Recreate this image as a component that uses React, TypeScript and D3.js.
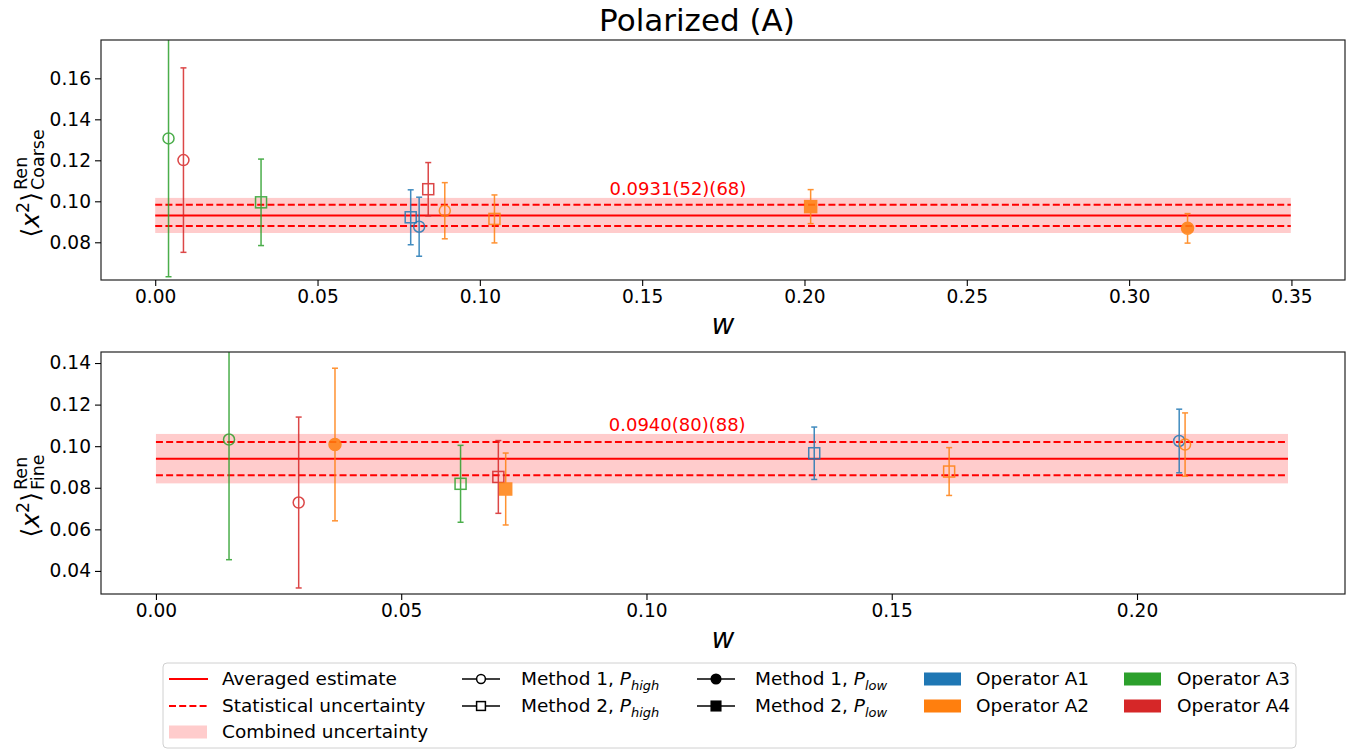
import React, { useEffect, useRef } from "react";
import * as d3 from "d3";

const FONT = "'DejaVu Sans', sans-serif";
const OPERATORS = ["A1", "A2", "A3", "A4"];
const OP_COLORS = ["#1f77b4", "#ff7f0e", "#2ca02c", "#d62728"];
// method codes: M1H = Method 1 P_high, M2H = Method 2 P_high, M1L = Method 1 P_low, M2L = Method 2 P_low

// ---- Coarse ensemble ----
const coarseOp = ["A3", "A4", "A3", "A1", "A1", "A4", "A2", "A2", "A2", "A2"];
const coarseMethod = ["M1H", "M1H", "M2H", "M2H", "M1H", "M2H", "M1H", "M2H", "M2L", "M1L"];
const coarseW = [0.0041, 0.0087, 0.0326, 0.0787, 0.0813, 0.0841, 0.0892, 0.1045, 0.2019, 0.318];
const coarseVal = [0.1307, 0.1201, 0.0995, 0.0922, 0.0876, 0.1059, 0.0954, 0.0914, 0.0974, 0.0868];
const coarseErr = [0.0675, 0.045, 0.0211, 0.0134, 0.0144, 0.013, 0.0137, 0.0117, 0.0083, 0.0072];
const coarseAvg = 0.0931;
const coarseStat = 0.0052;
const coarseSys = 0.0068;
const coarseText = "0.0931(52)(68)";
const coarseXTicks = [0, 0.05, 0.1, 0.15, 0.2, 0.25, 0.3, 0.35];
const coarseYTicks = [0.08, 0.1, 0.12, 0.14, 0.16];

// ---- Fine ensemble ----
const fineOp = ["A3", "A4", "A2", "A3", "A4", "A2", "A1", "A2", "A1", "A2"];
const fineMethod = ["M1H", "M1H", "M1L", "M2H", "M2H", "M2L", "M2H", "M2H", "M1H", "M1H"];
const fineW = [0.0149, 0.0291, 0.0365, 0.0621, 0.0698, 0.0713, 0.1342, 0.1617, 0.2086, 0.2098];
const fineVal = [0.1032, 0.0729, 0.1008, 0.0819, 0.0852, 0.0794, 0.0966, 0.0878, 0.1025, 0.1008];
const fineErr = [0.0578, 0.0411, 0.0367, 0.0185, 0.0175, 0.0173, 0.0126, 0.0115, 0.0153, 0.0152];
const fineAvg = 0.094;
const fineStat = 0.008;
const fineSys = 0.0088;
const fineText = "0.0940(80)(88)";
const fineXTicks = [0, 0.05, 0.1, 0.15, 0.2];
const fineYTicks = [0.04, 0.06, 0.08, 0.1, 0.12, 0.14];

const fmt = d3.format(".2f");

function Marker({ method, color, cx, cy, legend }: any) {
  const filled = method === "M1L" || method === "M2L";
  const isCircle = method === "M1H" || method === "M1L";
  const s = legend ? 0.8 : 1;
  if (isCircle) {
    const r = (filled ? 6 : 5.5) * s;
    return (
      <circle cx={cx} cy={cy} r={r} fill={filled ? color : legend ? "#fff" : "none"} stroke={color} strokeWidth={1.5} />
    );
  }
  const h = (filled ? 6 : 5.5) * s;
  return (
    <rect x={cx - h} y={cy - h} width={2 * h} height={2 * h} fill={filled ? color : legend ? "#fff" : "none"} stroke={color} strokeWidth={1.5} />
  );
}

function Panel({ id, top, bottom, xDomain, yDomain, ws, vals, errs, ops, methods, avg, stat, sys, text, xTicks, yTicks, sub, labelSplit }: any) {
  const left = 101;
  const right = 1345;
  const x = d3.scaleLinear().domain(xDomain).range([left, right]);
  const y = d3.scaleLinear().domain(yDomain).range([bottom, top]);
  const xRef = useRef<SVGGElement>(null);
  const yRef = useRef<SVGGElement>(null);
  const comb = Math.sqrt(stat * stat + sys * sys);
  const bandEnd = d3.max(ws as number[])! * 1.1;

  useEffect(() => {
    const style = (g: any) => {
      g.attr("font-size", null).attr("font-family", null);
      g.select(".domain").remove();
      g.selectAll("text").attr("font-size", 18.6).attr("font-family", FONT).attr("fill", "#000");
      g.selectAll("line").attr("stroke", "#000").attr("stroke-width", 1.1);
    };
    const gx = d3.select(xRef.current!);
    gx.call(d3.axisBottom(x).tickValues(xTicks).tickFormat((d: any) => fmt(d)).tickSize(6).tickPadding(4) as any);
    style(gx);
    const gy = d3.select(yRef.current!);
    gy.call(d3.axisLeft(y).tickValues(yTicks).tickFormat((d: any) => fmt(d)).tickSize(6).tickPadding(4) as any);
    style(gy);
  }, []);

  return (
    <g>
      <defs>
        <clipPath id={`clip-${id}`}>
          <rect x={left} y={top} width={right - left} height={bottom - top} />
        </clipPath>
      </defs>
      <g clipPath={`url(#clip-${id})`}>
        <rect x={x(0)} width={x(bandEnd) - x(0)} y={y(avg + comb)} height={y(avg - comb) - y(avg + comb)} fill="#ffcccc" />
        <line x1={x(0)} x2={x(bandEnd)} y1={y(avg)} y2={y(avg)} stroke="#ff0000" strokeWidth={2} />
        <line x1={x(0)} x2={x(bandEnd)} y1={y(avg + stat)} y2={y(avg + stat)} stroke="#ff0000" strokeWidth={2} strokeDasharray="7,3.2" />
        <line x1={x(0)} x2={x(bandEnd)} y1={y(avg - stat)} y2={y(avg - stat)} stroke="#ff0000" strokeWidth={2} strokeDasharray="7,3.2" />
        {ws.map((w: number, i: number) => {
          const color = OP_COLORS[OPERATORS.indexOf(ops[i])];
          const cx = x(w);
          const y0 = y(vals[i] - errs[i]);
          const y1 = y(vals[i] + errs[i]);
          return (
            <g key={i} opacity={0.85}>
              <line x1={cx} x2={cx} y1={y0} y2={y1} stroke={color} strokeWidth={1.5} />
              <line x1={cx - 3} x2={cx + 3} y1={y0} y2={y0} stroke={color} strokeWidth={1.5} />
              <line x1={cx - 3} x2={cx + 3} y1={y1} y2={y1} stroke={color} strokeWidth={1.5} />
              <Marker method={methods[i]} color={color} cx={cx} cy={y(vals[i])} />
            </g>
          );
        })}
      </g>
      <text x={x(0.4 * bandEnd)} y={y(avg + comb) - 3} fontSize={18} fill="#ff0000" fontFamily={FONT}>
        {text}
      </text>
      <rect x={left} y={top} width={right - left} height={bottom - top} fill="none" stroke="#222" strokeWidth={1.2} />
      <g ref={xRef} transform={`translate(0,${bottom})`} />
      <g ref={yRef} transform={`translate(${left},0)`} />
      <text x={(left + right) / 2} y={bottom + 54} textAnchor="middle" fontSize={28} fontStyle="italic" fontFamily={FONT}>
        w
      </text>
      <g transform={`translate(39,${labelSplit}) rotate(-90)`} fontFamily={FONT}>
        <text x={0} y={0} textAnchor="end" fontSize={25}>
          ⟨<tspan fontStyle="italic">x</tspan>
          <tspan fontSize={17.5} dy={-10}>2</tspan>
          <tspan dy={10}>⟩</tspan>
        </text>
        <text x={2} y={-12} fontSize={17.5}>
          Ren
        </text>
        <text x={2} y={5} fontSize={17.5}>
          {sub}
        </text>
      </g>
    </g>
  );
}

function Legend() {
  const rows = [679, 706, 732];
  const fs = 18.5;
  const methodEntry = (code: string, num: string, sub: string, lx: number, tx: number, ry: number) => (
    <g key={code}>
      <line x1={lx} x2={lx + 38} y1={ry} y2={ry} stroke="#000" strokeWidth={1.5} />
      <Marker method={code} color="#000" cx={lx + 19} cy={ry} legend />
      <text x={tx} y={ry + 6} fontSize={fs}>
        Method {num}, <tspan fontStyle="italic">P</tspan>
        <tspan fontStyle="italic" fontSize={13} dy={5}>
          {sub}
        </tspan>
      </text>
    </g>
  );
  return (
    <g fontFamily={FONT}>
      <rect x={163} y={663} width={1133} height={85} rx={4} fill="#fff" stroke="#d0d0d0" strokeWidth={1} />
      <line x1={169} x2={208} y1={rows[0]} y2={rows[0]} stroke="#ff0000" strokeWidth={2} />
      <text x={222} y={rows[0] + 6} fontSize={fs}>Averaged estimate</text>
      <line x1={169} x2={208} y1={rows[1]} y2={rows[1]} stroke="#ff0000" strokeWidth={2} strokeDasharray="7,3.2" />
      <text x={222} y={rows[1] + 6} fontSize={fs}>Statistical uncertainty</text>
      <rect x={169} y={rows[2] - 6.5} width={38} height={13} fill="#ffcccc" />
      <text x={222} y={rows[2] + 6} fontSize={fs}>Combined uncertainty</text>
      {methodEntry("M1H", "1", "high", 462, 521, rows[0])}
      {methodEntry("M2H", "2", "high", 462, 521, rows[1])}
      {methodEntry("M1L", "1", "low", 697, 755, rows[0])}
      {methodEntry("M2L", "2", "low", 697, 755, rows[1])}
      {OPERATORS.map((op, i) => {
        const cx = i < 2 ? 924 : 1124;
        const tx = i < 2 ? 976 : 1177;
        const ry = rows[i % 2];
        return (
          <g key={op}>
            <rect x={cx} y={ry - 6.5} width={37} height={13} fill={OP_COLORS[i]} />
            <text x={tx} y={ry + 6} fontSize={fs}>Operator {op}</text>
          </g>
        );
      })}
    </g>
  );
}

export default function App() {
  useEffect(() => {
    document.body.style.margin = "0";
  }, []);
  return (
    <svg width={1364} height={752} style={{ display: "block", background: "#fff" }}>
      <text x={697} y={31} textAnchor="middle" fontSize={31} fontFamily={FONT}>
        Polarized (A)
      </text>
      <Panel
        id="coarse"
        top={40}
        bottom={280}
        xDomain={[-0.0167, 0.3665]}
        yDomain={[0.0616, 0.1787]}
        ws={coarseW}
        vals={coarseVal}
        errs={coarseErr}
        ops={coarseOp}
        methods={coarseMethod}
        avg={coarseAvg}
        stat={coarseStat}
        sys={coarseSys}
        text={coarseText}
        xTicks={coarseXTicks}
        yTicks={coarseYTicks}
        sub="Coarse"
        labelSplit={192}
      />
      <Panel
        id="fine"
        top={352}
        bottom={594}
        xDomain={[-0.0112, 0.2424]}
        yDomain={[0.0289, 0.1453]}
        ws={fineW}
        vals={fineVal}
        errs={fineErr}
        ops={fineOp}
        methods={fineMethod}
        avg={fineAvg}
        stat={fineStat}
        sys={fineSys}
        text={fineText}
        xTicks={fineXTicks}
        yTicks={fineYTicks}
        sub="Fine"
        labelSplit={492}
      />
      <Legend />
    </svg>
  );
}
